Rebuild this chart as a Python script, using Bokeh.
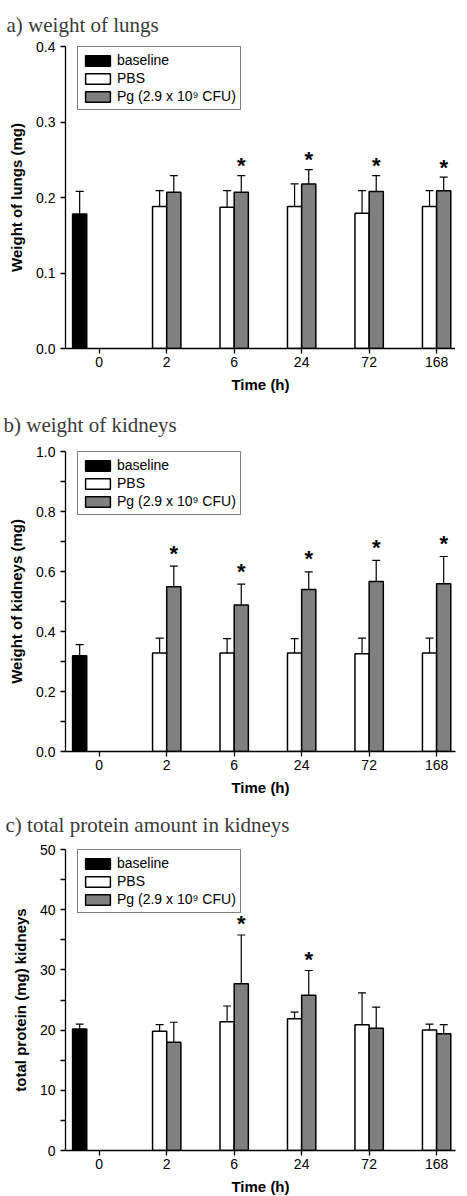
from bokeh.plotting import figure
from bokeh.layouts import column
from bokeh.models import (ColumnDataSource, Range1d, FixedTicker, PrintfTickFormatter,
                          Whisker, TeeHead, Legend, LegendItem)
from bokeh.core.properties import value
from bokeh.embed import file_html
from bokeh.resources import INLINE

# ---------------- data ----------------
times = ["0", "2", "6", "24", "72", "168"]
series_names = ["baseline", "PBS", "Pg (2.9 x 10\u2079 CFU)"]

# a) weight of lungs (mg)
lung_base_mean = [0.178]
lung_base_sd = [0.030]
lung_pbs_mean = [0.188, 0.187, 0.188, 0.179, 0.188]
lung_pbs_sd = [0.021, 0.022, 0.030, 0.030, 0.021]
lung_pg_mean = [0.207, 0.207, 0.218, 0.208, 0.209]
lung_pg_sd = [0.022, 0.022, 0.019, 0.021, 0.018]
lung_sig = [False, True, True, True, True]
lung_yticks = [0.0, 0.1, 0.2, 0.3, 0.4]
lung_yminor = []

# b) weight of kidneys (mg)
kid_base_mean = [0.319]
kid_base_sd = [0.037]
kid_pbs_mean = [0.328, 0.328, 0.328, 0.326, 0.328]
kid_pbs_sd = [0.050, 0.048, 0.048, 0.052, 0.050]
kid_pg_mean = [0.549, 0.488, 0.540, 0.567, 0.559]
kid_pg_sd = [0.069, 0.070, 0.059, 0.070, 0.091]
kid_sig = [True, True, True, True, True]
kid_yticks = [0.0, 0.2, 0.4, 0.6, 0.8, 1.0]
kid_yminor = [0.1, 0.3, 0.5, 0.7, 0.9]

# c) total protein amount in kidneys (mg)
prot_base_mean = [20.2]
prot_base_sd = [0.8]
prot_pbs_mean = [19.8, 21.4, 21.9, 20.9, 20.0]
prot_pbs_sd = [1.1, 2.6, 1.1, 5.3, 1.0]
prot_pg_mean = [18.0, 27.7, 25.8, 20.3, 19.4]
prot_pg_sd = [3.3, 8.1, 4.1, 3.5, 1.5]
prot_sig = [False, True, True, False, False]
prot_yticks = [0, 10, 20, 30, 40, 50]
prot_yminor = [5, 15, 25, 35, 45]

# ---------------- style ----------------
SANS = "Liberation Sans"
SERIF = "Liberation Serif"
GRAY = "#808080"
BAR_W = 0.21
BASE_OFF = -0.29
PBS_OFF = -0.105
PG_OFF = 0.105
LEG_H = 62


def panel(title, ylabel, y_end, yticks, yminor, fmt,
          base_mean, base_sd, pbs_mean, pbs_sd, pg_mean, pg_sd, sig,
          left, top, frame_h, bottom, star_px, title_standoff,
          xl_standoff=3, xa_standoff=6):
    p = figure(frame_width=390, frame_height=frame_h,
               min_border_left=left, min_border_right=3,
               min_border_top=top, min_border_bottom=bottom,
               x_range=Range1d(-0.5, 5.28), y_range=Range1d(0, y_end),
               output_backend="svg", toolbar_location=None, title=title)
    p.outline_line_color = None
    p.grid.visible = False
    p.background_fill_color = "white"
    p.border_fill_color = "white"

    p.title.text_font = SERIF
    p.title.text_font_size = "21px"
    p.title.text_font_style = "normal"
    p.title.text_color = "#3a3a3a"
    p.title.align = "left"
    p.title.offset = -(left - 3)
    p.title.standoff = title_standoff

    # positions from the data lists
    base_x = [0 + BASE_OFF for _ in base_mean]
    pbs_x = [i + 1 + PBS_OFF for i in range(len(pbs_mean))]
    pg_x = [i + 1 + PG_OFF for i in range(len(pg_mean))]

    src_base = ColumnDataSource(dict(x=base_x, m=base_mean,
                                     hi=[m + s for m, s in zip(base_mean, base_sd)]))
    src_pbs = ColumnDataSource(dict(x=pbs_x, m=pbs_mean,
                                    hi=[m + s for m, s in zip(pbs_mean, pbs_sd)]))
    src_pg = ColumnDataSource(dict(x=pg_x, m=pg_mean,
                                   hi=[m + s for m, s in zip(pg_mean, pg_sd)]))

    r_base = p.vbar(x="x", top="m", width=BAR_W, source=src_base,
                    fill_color="black", line_color="black", line_width=1.5)
    r_pbs = p.vbar(x="x", top="m", width=BAR_W, source=src_pbs,
                   fill_color="white", line_color="black", line_width=1.5)
    r_pg = p.vbar(x="x", top="m", width=BAR_W, source=src_pg,
                  fill_color=GRAY, line_color="black", line_width=1.5)

    for src in (src_base, src_pbs, src_pg):
        w = Whisker(base="x", lower="m", upper="hi", source=src, dimension="height",
                    line_color="black", line_width=1.2, lower_head=None,
                    upper_head=TeeHead(size=8, line_color="black", line_width=1.2))
        p.add_layout(w)

    star_x = [x for x, s in zip(pg_x, sig) if s]
    star_y = [m + s for m, s, g in zip(pg_mean, pg_sd, sig) if g]
    p.text(x=star_x, y=star_y, text=["*"] * len(star_x),
           text_font=value(SANS), text_font_size="22px", text_font_style="bold",
           text_align="center", text_baseline="middle", y_offset=-star_px,
           text_color="black")

    # axes
    p.xaxis.ticker = FixedTicker(ticks=list(range(len(times))))
    p.xaxis.major_label_overrides = {i: t for i, t in enumerate(times)}
    p.yaxis.ticker = FixedTicker(ticks=yticks, minor_ticks=yminor)
    p.yaxis.formatter = PrintfTickFormatter(format=fmt)
    p.xaxis.axis_label = "Time (h)"
    p.yaxis.axis_label = ylabel
    for ax in (p.xaxis, p.yaxis):
        ax.axis_line_width = 1.3
        ax.axis_line_color = "black"
        ax.major_tick_line_width = 1.3
        ax.major_tick_line_color = "black"
        ax.major_tick_in = 0
        ax.major_tick_out = 5
        ax.minor_tick_in = 0
        ax.minor_tick_out = 5
        ax.minor_tick_line_width = 1.3
        ax.minor_tick_line_color = "black"
        ax.major_label_text_font = SANS
        ax.major_label_text_font_size = "14px"
        ax.major_label_text_color = "black"
        ax.axis_label_text_font = SANS
        ax.axis_label_text_font_size = "15px"
        ax.axis_label_text_font_style = "bold"
        ax.axis_label_text_color = "black"
    p.xaxis.minor_tick_line_color = None
    if not yminor:
        p.yaxis.minor_tick_line_color = None
    p.xaxis.major_label_standoff = xl_standoff
    p.xaxis.axis_label_standoff = xa_standoff
    p.yaxis.major_label_standoff = 5
    p.yaxis.axis_label_standoff = 8

    legend = Legend(items=[LegendItem(label=series_names[0], renderers=[r_base]),
                           LegendItem(label=series_names[1], renderers=[r_pbs]),
                           LegendItem(label=series_names[2], renderers=[r_pg])],
                    location=(12, frame_h - 2 - LEG_H))
    legend.glyph_width = 31
    legend.glyph_height = 13
    legend.label_height = 18
    legend.label_standoff = 4
    legend.spacing = 0
    legend.padding = 4
    legend.margin = 0
    legend.border_line_color = "black"
    legend.border_line_width = 1
    legend.background_fill_color = "white"
    legend.background_fill_alpha = 1
    legend.label_text_font = SANS
    legend.label_text_font_size = "14px"
    legend.label_text_color = "black"
    p.add_layout(legend, "center")
    return p


pa = panel("a) weight of lungs", "Weight of lungs (mg)", 0.4, lung_yticks, lung_yminor, "%.1f",
           lung_base_mean, lung_base_sd, lung_pbs_mean, lung_pbs_sd, lung_pg_mean, lung_pg_sd,
           lung_sig, left=62, top=45, frame_h=302, bottom=47, star_px=10, title_standoff=20)
pb = panel("b) weight of kidneys", "Weight of kidneys (mg)", 1.0, kid_yticks, kid_yminor, "%.1f",
           kid_base_mean, kid_base_sd, kid_pbs_mean, kid_pbs_sd, kid_pg_mean, kid_pg_sd,
           kid_sig, left=65, top=56, frame_h=300, bottom=47, star_px=13, title_standoff=30)
pc = panel("c) total protein amount in kidneys", "total protein (mg) kidneys", 50, prot_yticks,
           prot_yminor, "%d",
           prot_base_mean, prot_base_sd, prot_pbs_mean, prot_pbs_sd, prot_pg_mean, prot_pg_sd,
           prot_sig, left=63, top=51, frame_h=301, bottom=47, star_px=11, title_standoff=25)

layout = column(pa, pb, pc, spacing=0)
open("out.html", "w").write(file_html(layout, INLINE))
